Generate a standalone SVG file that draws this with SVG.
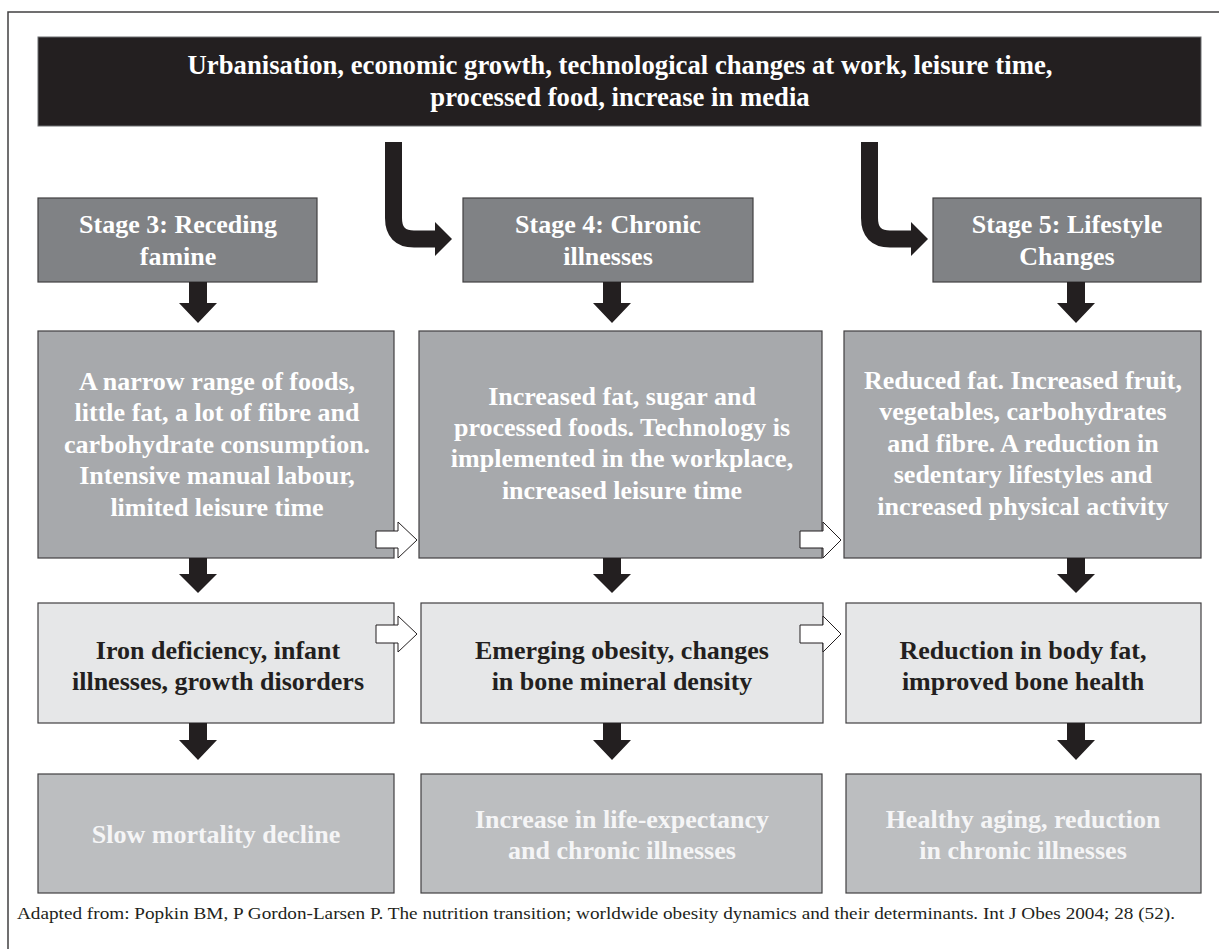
<svg xmlns="http://www.w3.org/2000/svg" width="1219" height="949" viewBox="0 0 1219 949">
  <style>
    .frame { fill: none; stroke: #414042; stroke-width: 1.5; }
    .box { stroke: #414042; stroke-width: 1.2; }
    .bar { fill: #231f20; stroke: #6d6e71; stroke-width: 1; }
    .stage { fill: #808285; }
    .diet { fill: #a7a9ac; }
    .health { fill: #e6e7e8; }
    .outcome { fill: #bcbec0; }
    text { font-family: "Liberation Serif", "Times New Roman", serif; font-weight: bold; font-size: 26px; text-anchor: middle; }
    .head { font-size: 26.7px; }
    .light { fill: #ffffff; }
    .dark { fill: #231f20; }
    .faint { fill: #f5f5f6; }
    .down { fill: #231f20; }
    .hollow { fill: #ffffff; stroke: #231f20; stroke-width: 1; stroke-linejoin: miter; }
    .bend { fill: none; stroke: #231f20; stroke-width: 17; }
    .note { font-weight: normal; font-size: 16.5px; text-anchor: start; fill: #231f20; }
  </style>

  <!-- page frame -->
  <path class="frame" d="M8 952 V12 H1222"/>

  <!-- drivers banner -->
  <g id="drivers">
    <rect class="bar" x="38" y="37" width="1163" height="89"/>
    <text class="light head" x="620" y="74">Urbanisation, economic growth, technological changes at work, leisure time,</text>
    <text class="light head" x="620" y="106">processed food, increase in media</text>
  </g>

  <!-- stage headers -->
  <g id="stage3">
    <rect class="box stage" x="38" y="198" width="279" height="84"/>
    <text class="light" x="178" y="233">Stage 3: Receding</text>
    <text class="light" x="178" y="265">famine</text>
  </g>
  <g id="stage4">
    <rect class="box stage" x="463" y="198" width="290" height="84"/>
    <text class="light" x="608" y="233">Stage 4: Chronic</text>
    <text class="light" x="608" y="265">illnesses</text>
  </g>
  <g id="stage5">
    <rect class="box stage" x="933" y="198" width="268" height="84"/>
    <text class="light" x="1067" y="233">Stage 5: Lifestyle</text>
    <text class="light" x="1067" y="265">Changes</text>
  </g>

  <!-- diet and activity -->
  <g id="diet3">
    <rect class="box diet" x="38" y="331" width="356" height="227"/>
    <text class="light" x="217" y="390">A narrow range of foods,</text>
    <text class="light" x="217" y="421">little fat, a lot of fibre and</text>
    <text class="light" x="217" y="453">carbohydrate consumption.</text>
    <text class="light" x="217" y="484">Intensive manual labour,</text>
    <text class="light" x="217" y="516">limited leisure time</text>
  </g>
  <g id="diet4">
    <rect class="box diet" x="419" y="331" width="403" height="227"/>
    <text class="light" x="622" y="405">Increased fat, sugar and</text>
    <text class="light" x="622" y="436">processed foods. Technology is</text>
    <text class="light" x="622" y="467">implemented in the workplace,</text>
    <text class="light" x="622" y="499">increased leisure time</text>
  </g>
  <g id="diet5">
    <rect class="box diet" x="844" y="331" width="357" height="227"/>
    <text class="light" x="1023" y="389">Reduced fat. Increased fruit,</text>
    <text class="light" x="1023" y="420">vegetables, carbohydrates</text>
    <text class="light" x="1023" y="452">and fibre. A reduction in</text>
    <text class="light" x="1023" y="483">sedentary lifestyles and</text>
    <text class="light" x="1023" y="515">increased physical activity</text>
  </g>

  <!-- health effects -->
  <g id="health3">
    <rect class="box health" x="38" y="603" width="356" height="120"/>
    <text class="dark" x="218" y="659">Iron deficiency, infant</text>
    <text class="dark" x="218" y="690">illnesses, growth disorders</text>
  </g>
  <g id="health4">
    <rect class="box health" x="421" y="603" width="402" height="120"/>
    <text class="dark" x="622" y="659">Emerging obesity, changes</text>
    <text class="dark" x="622" y="690">in bone mineral density</text>
  </g>
  <g id="health5">
    <rect class="box health" x="846" y="603" width="355" height="120"/>
    <text class="dark" x="1023" y="659">Reduction in body fat,</text>
    <text class="dark" x="1023" y="690">improved bone health</text>
  </g>

  <!-- population outcomes -->
  <g id="outcome3">
    <rect class="box outcome" x="38" y="774" width="356" height="119"/>
    <text class="faint" x="216" y="843">Slow mortality decline</text>
  </g>
  <g id="outcome4">
    <rect class="box outcome" x="421" y="774" width="401" height="119"/>
    <text class="faint" x="622" y="828">Increase in life-expectancy</text>
    <text class="faint" x="622" y="859">and chronic illnesses</text>
  </g>
  <g id="outcome5">
    <rect class="box outcome" x="846" y="774" width="355" height="119"/>
    <text class="faint" x="1023" y="828">Healthy aging, reduction</text>
    <text class="faint" x="1023" y="859">in chronic illnesses</text>
  </g>

  <!-- connectors -->
  <g id="connectors">
    <!-- banner to stages 4 and 5 -->
    <path class="bend" d="M393.5 142 V218 Q393.5 239 414 239 H436"/>
    <polygon class="down" points="435,222 452,239 435,256"/>
    <path class="bend" d="M869.5 142 V218 Q869.5 239 890 239 H912"/>
    <polygon class="down" points="911,222 928,239 911,256"/>

    <!-- stage to diet -->
    <polygon class="down" points="189,282 207,282 207,303 217,303 198,323 179,303 189,303"/>
    <polygon class="down" points="603,282 621,282 621,303 631,303 612,323 593,303 603,303"/>
    <polygon class="down" points="1067,282 1085,282 1085,303 1095,303 1076,323 1057,303 1067,303"/>

    <!-- diet to health -->
    <polygon class="down" points="189,558 207,558 207,574 217,574 198,593 179,574 189,574"/>
    <polygon class="down" points="603,558 621,558 621,574 631,574 612,593 593,574 603,574"/>
    <polygon class="down" points="1067,558 1085,558 1085,574 1095,574 1076,593 1057,574 1067,574"/>

    <!-- health to outcome -->
    <polygon class="down" points="189,723 207,723 207,740 217,740 198,760 179,740 189,740"/>
    <polygon class="down" points="603,723 621,723 621,740 631,740 612,760 593,740 603,740"/>
    <polygon class="down" points="1067,723 1085,723 1085,740 1095,740 1076,760 1057,740 1067,740"/>

    <!-- stage-to-stage transitions -->
    <polygon class="hollow" points="376,531 398,531 398,522 417,540 398,558 398,548 376,548"/>
    <polygon class="hollow" points="800,531 823,531 823,522 841,540 823,558 823,548 800,548"/>
    <polygon class="hollow" points="376,625 398,625 398,616 417,634 398,652 398,643 376,643"/>
    <polygon class="hollow" points="800,625 823,625 823,616 841,634 823,652 823,643 800,643"/>
  </g>

  <!-- source note -->
  <text class="note" x="17" y="919" textLength="1158" lengthAdjust="spacingAndGlyphs">Adapted from: Popkin BM, P Gordon-Larsen P. The nutrition transition; worldwide obesity dynamics and their determinants. Int J Obes 2004; 28 (52).</text>
</svg>
